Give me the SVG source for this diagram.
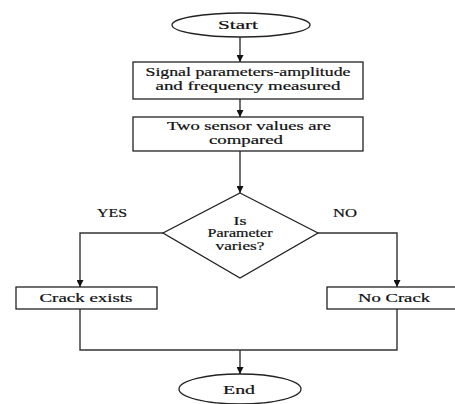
<svg xmlns="http://www.w3.org/2000/svg" width="455" height="404" viewBox="0 0 455 404">
<style>
.shape{fill:#fff;stroke:#222;stroke-width:1.3}
.line{fill:none;stroke:#333;stroke-width:1.4}
text{font-family:'Liberation Serif','Times New Roman',serif;font-size:12px;fill:#111;text-anchor:middle;stroke:#111;stroke-width:0.2}
</style>
<defs>
<marker id="arr" viewBox="0 0 10 10" refX="10" refY="5" markerWidth="7" markerHeight="7" markerUnits="userSpaceOnUse" orient="auto">
<path d="M0,0 L10,5 L0,10 z" fill="#111"/>
</marker>
</defs>
<rect width="455" height="404" fill="#fff"/>
<g id="connectors">
<line class="line" x1="240" y1="37" x2="240" y2="62" marker-end="url(#arr)"/>
<line class="line" x1="240" y1="99" x2="240" y2="117" marker-end="url(#arr)"/>
<line class="line" x1="240" y1="151" x2="240" y2="193" marker-end="url(#arr)"/>
<polyline class="line" points="163,233 80,233 80,287" marker-end="url(#arr)"/>
<polyline class="line" points="318,233 397,233 397,287" marker-end="url(#arr)"/>
<polyline class="line" points="80,309 80,350 397,350 397,309"/>
<line class="line" x1="240" y1="350" x2="240" y2="374" marker-end="url(#arr)"/>
</g>
<g id="start">
<ellipse class="shape" cx="241" cy="25" rx="69" ry="12"/>
<text x="238" y="29" textLength="40" lengthAdjust="spacingAndGlyphs">Start</text>
</g>
<g id="measure">
<rect class="shape" x="133" y="62" width="230" height="37"/>
<text x="248" y="76" textLength="205" lengthAdjust="spacingAndGlyphs">Signal parameters-amplitude</text>
<text x="248" y="90" textLength="185" lengthAdjust="spacingAndGlyphs">and frequency measured</text>
</g>
<g id="compare">
<rect class="shape" x="133" y="117" width="230" height="34"/>
<text x="249" y="130" textLength="164" lengthAdjust="spacingAndGlyphs">Two sensor values are</text>
<text x="246" y="143.5" textLength="74" lengthAdjust="spacingAndGlyphs">compared</text>
</g>
<g id="decision">
<polygon class="shape" points="240,193 318,233 240,278 163,233"/>
<text x="240" y="224.5" textLength="13" lengthAdjust="spacingAndGlyphs">Is</text>
<text x="240" y="237" textLength="65" lengthAdjust="spacingAndGlyphs">Parameter</text>
<text x="240" y="250" textLength="49" lengthAdjust="spacingAndGlyphs">varies?</text>
</g>
<g id="labels">
<text x="112" y="217" textLength="30" lengthAdjust="spacingAndGlyphs">YES</text>
<text x="345" y="217" textLength="24" lengthAdjust="spacingAndGlyphs">NO</text>
</g>
<g id="crack">
<rect class="shape" x="16" y="287" width="141" height="22"/>
<text x="86" y="302" textLength="93" lengthAdjust="spacingAndGlyphs">Crack exists</text>
</g>
<g id="nocrack">
<rect class="shape" x="327" y="287" width="140" height="22"/>
<text x="394" y="302" textLength="72" lengthAdjust="spacingAndGlyphs">No Crack</text>
</g>
<g id="end">
<ellipse class="shape" cx="240" cy="389" rx="61" ry="15"/>
<text x="239" y="394" textLength="32" lengthAdjust="spacingAndGlyphs">End</text>
</g>
</svg>
